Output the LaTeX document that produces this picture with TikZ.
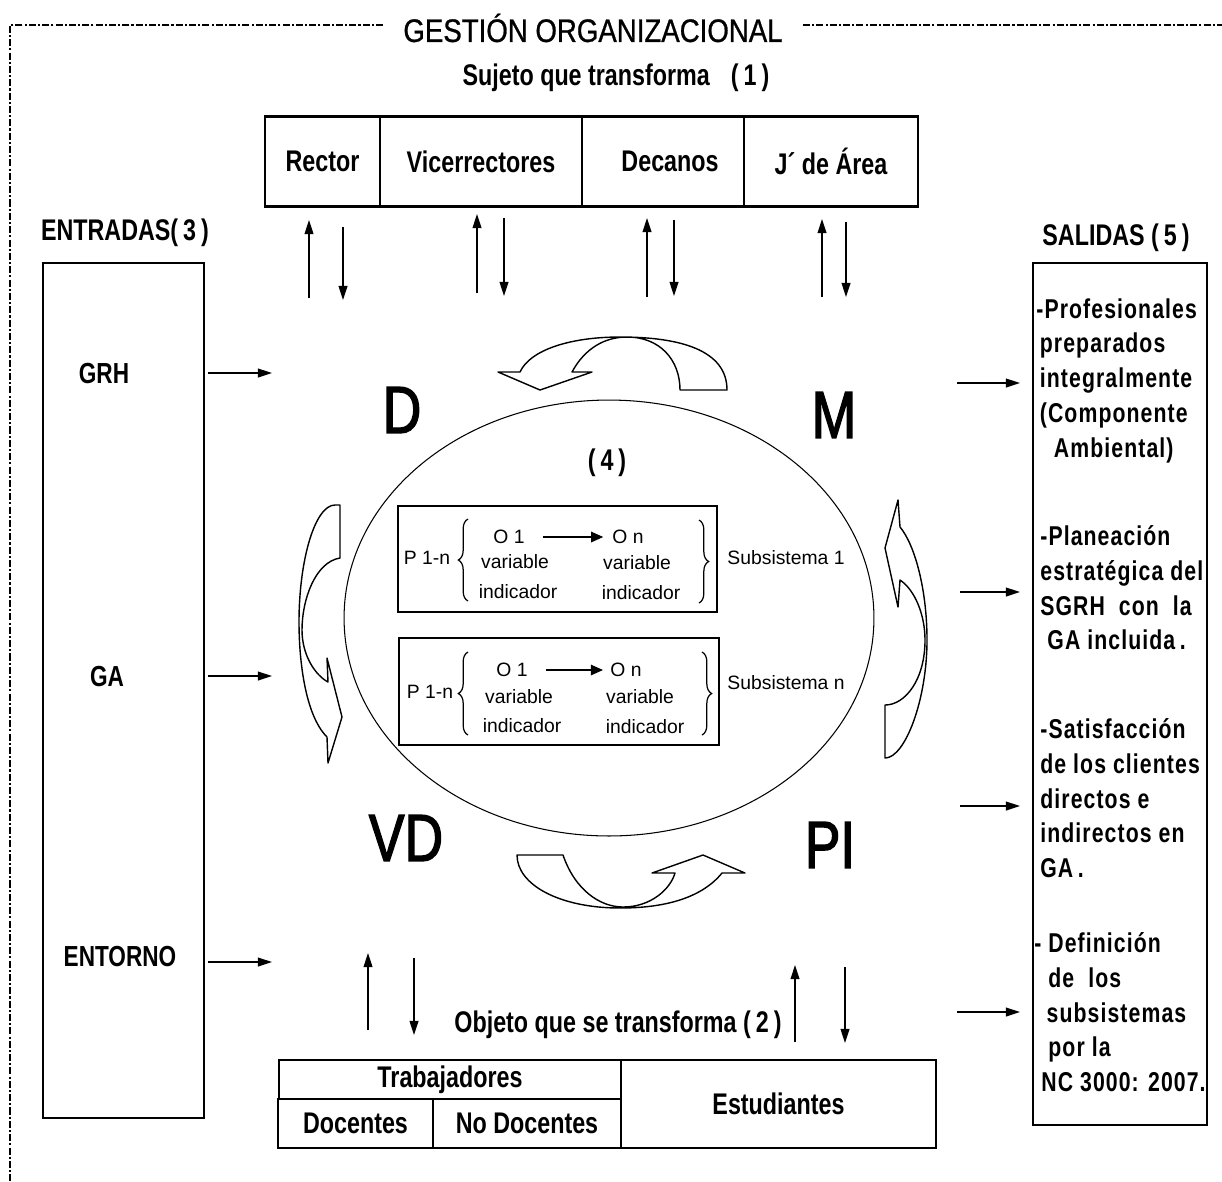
\documentclass[tikz,border=0pt]{standalone}
\usepackage{fontspec}
\setmainfont{Liberation Sans}
\newfontfamily\titlef[FakeStretch=0.85,FakeBold=0.8]{Liberation Sans}
\newfontfamily\nar[FakeStretch=0.78]{Liberation Sans}
\newfontfamily\narsp[FakeStretch=0.78,LetterSpace=4]{Liberation Sans}
\newfontfamily\bigf[FakeStretch=0.8,FakeBold=2]{Liberation Sans}
\usetikzlibrary{arrows.meta,decorations.pathreplacing,shapes.geometric}
\begin{document}
\begin{tikzpicture}[x=0.02cm,y=-0.02cm,
 lbl/.style={font=\nar\bfseries\fontsize{#1}{#1}\selectfont, inner sep=0pt},
 lbl/.default=17,
 cell/.style={draw, line width=0.8pt, inner sep=0pt, font=\nar\bfseries\fontsize{17}{17}\selectfont},
 frame/.style={line width=0.6pt, dash pattern=on 4pt off 1.2pt on 1.2pt off 1.2pt},
 arr/.style={line width=0.8pt, -{Triangle[length=8pt,width=5pt]}},
 sarr/.style={line width=0.9pt, -{Triangle[length=7pt,width=6pt]}},
 sub/.style={font=\fontsize{11}{11}\selectfont, inner sep=0pt},
 big/.style={font=\bigf\fontsize{38}{38}\selectfont, inner sep=0pt},
 curv/.style={draw, line width=0.8pt, line join=round},
 brc/.style={decorate, decoration={brace, amplitude=5.5pt, aspect=0.5}, line width=0.7pt},
 outb/.style={draw, line width=0.9pt, inner sep=0pt},
 side/.style={font=\narsp\bfseries\fontsize{15.5}{19.85}\selectfont, align=left, anchor=north west, inner sep=0pt}
]
\useasboundingbox (0,0) rectangle (1222,1181);

% frame and title
\node[font=\titlef\fontsize{18.5}{20}\selectfont, inner sep=0pt] (title) at (593,28) {GESTIÓN ORGANIZACIONAL};
\coordinate (fa) at (383,25); \coordinate (fb) at (10,25); \coordinate (fc) at (10,1181);
\coordinate (fd) at (803,25); \coordinate (fe) at (1222,25);
\draw[frame] (fa) -- (fb) -- (fc);
\draw[frame] (fd) -- (fe);

% subject
\node[lbl] (suj) at (616,78) {Sujeto que transforma\hspace{12pt}(\,1\,)};
\node[cell, minimum width=2.3cm, minimum height=1.78cm] (rector) at (322.5,161.5) {Rector};
\node[cell, minimum width=4.04cm, minimum height=1.78cm] (vice) at (481,161.5) {Vicerrectores};
\node[cell, minimum width=3.24cm, minimum height=1.78cm] (dec) at (663,161.5) {\hspace{8pt}Decanos};
\node[cell, minimum width=3.48cm, minimum height=1.78cm] (jefe) at (831,161.5) {J´ de Área};
\draw[line width=1.6pt] (rector.north west) -- (jefe.north east);
\draw[line width=1.6pt] (rector.south west) -- (jefe.south east);

% top arrows
\coordinate (t1a) at (309,298); \coordinate (t1b) at (309,220);
\coordinate (t2a) at (343,227); \coordinate (t2b) at (343,300);
\coordinate (t3a) at (477,293); \coordinate (t3b) at (477,214);
\coordinate (t4a) at (504,218); \coordinate (t4b) at (504,296);
\coordinate (t5a) at (647,297); \coordinate (t5b) at (647,218);
\coordinate (t6a) at (674,220); \coordinate (t6b) at (674,296);
\coordinate (t7a) at (822,297); \coordinate (t7b) at (822,219);
\coordinate (t8a) at (846,222); \coordinate (t8b) at (846,297);
\foreach \i in {1,...,8} {\draw[arr] (t\i a) -- (t\i b);}

% inputs
\node[lbl] (entr) at (125,233) {ENTRADAS(\,3\,)};
\node[outb, minimum width=3.22cm, minimum height=17.1cm] (inbox) at (123.5,690.5) {};
\node[lbl=16.5] (grh) at (104,374) {GRH};
\node[lbl=16.5] (ga) at (107,676) {GA};
\node[lbl=16.5] (ento) at (120,956) {ENTORNO};
\coordinate (l1a) at (208,373); \coordinate (l1b) at (272,373);
\coordinate (l2a) at (208,676); \coordinate (l2b) at (272,676);
\coordinate (l3a) at (208,962); \coordinate (l3b) at (272,962);
\foreach \i in {1,2,3} {\draw[arr] (l\i a) -- (l\i b);}

% outputs
\node[lbl] (sali) at (1116,238) {SALIDAS (\,5\,)};
\node[outb, minimum width=3.48cm, minimum height=17.24cm] (outbox) at (1120,694) {};
\node[side] (o1) at (1036,298) {-Profesionales\\\hspace*{2pt}preparados\\\hspace*{2pt}integralmente\\\hspace*{2pt}(Componente\\\hspace*{10pt}Ambiental)};
\node[side] (o2) at (1040,525) {-Planeación\\estratégica del\\SGRH\ \ con\ \ la\\\hspace*{4pt}GA\ incluida\,.};
\node[side] (o3) at (1040,718) {-Satisfacción\\de los clientes\\directos e\\indirectos en\\GA\,.};
\node[side] (o4) at (1034,932) {-\ Definición\\\hspace*{8pt}de\ \ los\\\hspace*{7pt}subsistemas\\\hspace*{8pt}por la\\\hspace*{4pt}NC 3000: 2007.};
\coordinate (r1a) at (957,383); \coordinate (r1b) at (1020,383);
\coordinate (r2a) at (960,592); \coordinate (r2b) at (1020,592);
\coordinate (r3a) at (960,806); \coordinate (r3b) at (1020,806);
\coordinate (r4a) at (957,1012); \coordinate (r4b) at (1020,1012);
\foreach \i in {1,...,4} {\draw[arr] (r\i a) -- (r\i b);}

% core ellipse
\node[draw, ellipse, line width=0.6pt, inner sep=0pt, minimum width=10.6cm, minimum height=8.72cm] (core) at (609,618) {};
\node[big] (dD) at (402,410) {D};
\node[big] (dM) at (834,415) {M};
\node[big] (dVD) at (406,838) {VD};
\node[big] (dPI) at (830,845) {PI};
\node[lbl] (four) at (607,463) {(\,4\,)};

% curved arrows
\draw[curv] (680,390) -- (727,390) .. controls (727,350) and (680,337) .. (620,337)
  .. controls (570,337) and (530,350) .. (520,372) -- (498,372) -- (540,390) -- (592,372) -- (572,372)
  .. controls (585,348) and (605,337) .. (627,337) .. controls (660,337) and (680,360) .. (680,390) -- cycle;
\draw[curv] (517,855) -- (563,855) .. controls (575,890) and (600,907) .. (623,907)
  .. controls (650,907) and (670,890) .. (675,873) -- (652,873) -- (703,855) -- (745,873) -- (722,873)
  .. controls (700,900) and (660,908) .. (620,908) .. controls (560,908) and (517,885) .. (517,855) -- cycle;
\draw[curv] (340,505) -- (340,558) .. controls (315,562) and (302,600) .. (302,630)
  .. controls (302,655) and (315,675) .. (328,682) -- (327,658) -- (342,717) -- (328,763) -- (327,737)
  .. controls (305,715) and (299,660) .. (299,622) .. controls (299,560) and (315,505) .. (335,505) -- cycle;
\draw[curv] (885,705) -- (885,758) .. controls (905,758) and (927,700) .. (927,640)
  .. controls (927,590) and (915,545) .. (900,527) -- (898,500) -- (885,548) -- (898,607) -- (900,580)
  .. controls (915,590) and (925,615) .. (925,640) .. controls (925,680) and (905,705) .. (885,705) -- cycle;

% subsystem 1
\node[draw, line width=0.9pt, minimum width=6.38cm, minimum height=2.12cm] (sb1) at (557.5,559) {};
\node[sub] (p1) at (427,558) {P 1-n};
\node[sub] (oa1) at (509,537) {O 1};
\node[sub] (ob1) at (628,537) {O n};
\node[sub] (va1) at (515,562) {variable};
\node[sub] (ia1) at (518,592) {indicador};
\node[sub] (vb1) at (637,563) {variable};
\node[sub] (ib1) at (641,593) {indicador};
\node[sub] (ss1) at (786,558) {Subsistema 1};
\draw[sarr, shorten <=10pt, shorten >=5pt] (oa1) -- (ob1);
\coordinate (b1a) at (468,601); \coordinate (b1b) at (468,519);
\coordinate (b1c) at (699,520); \coordinate (b1d) at (699,603);
\draw[brc] (b1a) -- (b1b);
\draw[brc] (b1c) -- (b1d);

% subsystem n
\node[draw, line width=0.9pt, minimum width=6.4cm, minimum height=2.14cm] (sbn) at (559,691.5) {};
\node[sub] (pn) at (430,692) {P 1-n};
\node[sub] (oan) at (512,670) {O 1};
\node[sub] (obn) at (626,670) {O n};
\node[sub] (van) at (519,697) {variable};
\node[sub] (ian) at (522,726) {indicador};
\node[sub] (vbn) at (640,697) {variable};
\node[sub] (ibn) at (645,727) {indicador};
\node[sub] (ssn) at (786,683) {Subsistema n};
\draw[sarr, shorten <=10pt, shorten >=4pt] (oan) -- (obn);
\coordinate (bna) at (468,735); \coordinate (bnb) at (468,652);
\coordinate (bnc) at (702,652); \coordinate (bnd) at (702,735);
\draw[brc] (bna) -- (bnb);
\draw[brc] (bnc) -- (bnd);

% object
\node[lbl] (obj) at (618,1025) {Objeto que se transforma (\,2\,)};
\coordinate (d1a) at (368,1030); \coordinate (d1b) at (368,953);
\coordinate (d2a) at (414,958); \coordinate (d2b) at (414,1035);
\coordinate (d3a) at (795,1042); \coordinate (d3b) at (795,965);
\coordinate (d4a) at (845,967); \coordinate (d4b) at (845,1043);
\foreach \i in {1,...,4} {\draw[arr] (d\i a) -- (d\i b);}
\node[cell, minimum width=6.84cm, minimum height=0.78cm] (trab) at (450,1079.5) {Trabajadores};
\node[cell, minimum width=3.1cm, minimum height=0.98cm] (doc) at (355.5,1123.5) {Docentes};
\node[cell, minimum width=3.76cm, minimum height=0.98cm] (nodoc) at (527,1123.5) {No Docentes};
\node[cell, minimum width=6.3cm, minimum height=1.76cm] (est) at (778.5,1104) {Estudiantes};
\end{tikzpicture}
\end{document}
